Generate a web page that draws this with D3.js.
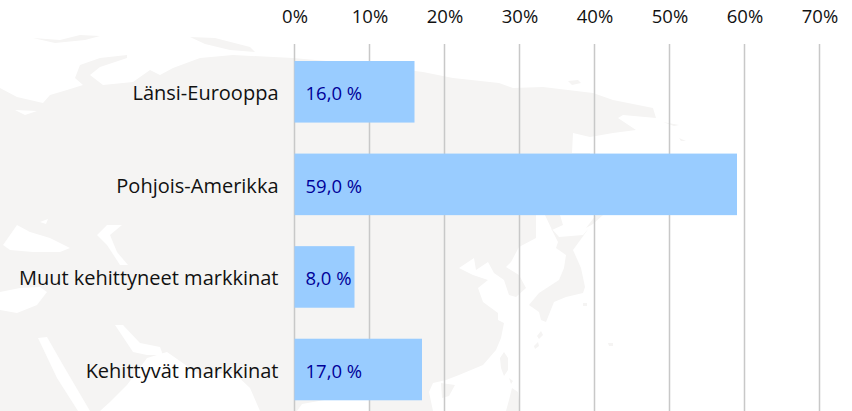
<!DOCTYPE html>
<html><head><meta charset="utf-8">
<script src="https://cdn.jsdelivr.net/npm/d3@7"></script>
<style>html,body{margin:0;background:#fff}svg{display:block}text{font-family:"Open Sans",sans-serif}</style>
</head><body><div id="c"></div>
<script>
const categories=["Länsi-Eurooppa","Pohjois-Amerikka","Muut kehittyneet markkinat","Kehittyvät markkinat"];
const values=[16,59,8,17];
const valueLabels=["16,0 %","59,0 %","8,0 %","17,0 %"];
const ticks=[0,10,20,30,40,50,60,70];
const landPaths=[
"M0,88L17,97L43,103L50,95L67,90L83,85L75,78L80,65L100,58L127,55L127,58L100,67L90,75L103,85L133,82L150,70L160,75L173,68L200,58L233,55L293,58L360,64L423,72L453,78L499,83L513,88L543,87L593,93L613,100L653,108L656,118L623,115L618,118L636,130L613,133L590,137L573,133L572,153L590,153L590,175L536,214L536,238L519,247L511,262L506,267L519,275L526,288L516,297L509,295L504,280L494,273L488,262L476,270L474,258L459,268L473,275L488,280L478,288L483,302L498,313L498,320L504,323L501,338L496,350L483,365L459,375L446,380L433,383L429,392L433,411L0,411Z",
"M551,228L559,237L583,235L589,228L573,250L581,268L585,287L583,293L566,297L554,302L546,322L541,320L539,312L529,305L539,293L559,280L564,268L566,255L556,248L558,242Z",
"M545,215L560,215L563,225L552,230Z","M586,228L596,215L603,215L593,224Z",
"M33,38L60,40L80,35L100,36L85,40L55,43Z","M190,37L215,38L250,47L255,52L230,50L205,44Z",
"M568,81L578,80L581,83L572,85Z","M663,122L679,125L674,126Z","M679,138L686,141L681,141Z",
"M537,336L541,331L543,335L539,339Z","M534,346L538,342L539,346L535,349Z","M608,343L613,343L613,346L609,346Z","M583,303L587,303L587,306L583,306Z",
"M504,352L508,358L508,370L504,376L501,368L500,358Z","M509,378L513,381L511,384Z","M512,388L518,392L520,411L506,411L509,400Z",
"M441,383L455,385L449,396L442,398Z"];
const seas=[
"M3,245L17,225L30,232L50,238L70,248L60,252L33,252L10,250Z","M40,222L48,219L46,224Z",
"M97,235L107,225L122,225L110,235L117,252L128,265L120,265L107,245Z",
"M0,292L20,288L40,287L47,292L37,305L17,313L0,310Z",
"M38,338L47,337L63,365L90,411L78,411L57,378Z",
"M115,325L123,325L140,343L160,347L163,355L147,355L133,352Z",
"M147,358L167,352L200,375L233,372L250,388L260,411L100,411L110,402L127,385Z",
"M297,411L302,404L330,399L370,399L370,411Z",
"M15,110L37,111L25,115Z"];
const W=852,H=411;
const x=d3.scaleLinear().domain([0,70]).range([294.5,819.5]);
const y=d3.scaleBand().domain(categories).range([45.5,415.8]).paddingInner(0.335).paddingOuter(0.1675);
const svg=d3.select("#c").append("svg").attr("width",W).attr("height",H);
svg.append("g").selectAll("path").data(landPaths).join("path").attr("d",d=>d).attr("fill","#f5f4f3");
svg.append("g").selectAll("path").data(seas).join("path").attr("d",d=>d).attr("fill","#fff");
const ax=svg.append("g").attr("transform","translate(0,44)").call(d3.axisTop(x).tickValues(ticks).tickFormat(d=>d+"%").tickSize(0).tickPadding(21));
ax.select(".domain").remove();
ax.selectAll("text").attr("font-size",18.5).attr("fill","#111").style("font-family",'"Open Sans",sans-serif');
svg.append("g").selectAll("line").data(ticks).join("line")
 .attr("x1",d=>x(d)).attr("x2",d=>x(d)).attr("y1",44).attr("y2",H).attr("stroke","#c8c8c8").attr("stroke-width",1.5);
svg.append("g").selectAll("rect").data(values).join("rect")
 .attr("x",x(0)).attr("y",(d,i)=>y(categories[i])).attr("width",d=>x(d)-x(0)).attr("height",y.bandwidth()).attr("fill","#99ccff");
svg.append("g").selectAll("text").data(categories).join("text").attr("x",278.5).attr("y",d=>y(d)+y.bandwidth()/2+1.5).attr("dy","0.35em")
 .attr("text-anchor","end").attr("font-size",20).attr("fill","#111").text(d=>d);
svg.append("g").selectAll("text").data(valueLabels).join("text").attr("x",305.5).attr("y",(d,i)=>y(categories[i])+y.bandwidth()/2+2).attr("dy","0.35em")
 .attr("text-anchor","start").attr("font-size",18.5).attr("fill","#000099").text(d=>d);
</script></body></html>
